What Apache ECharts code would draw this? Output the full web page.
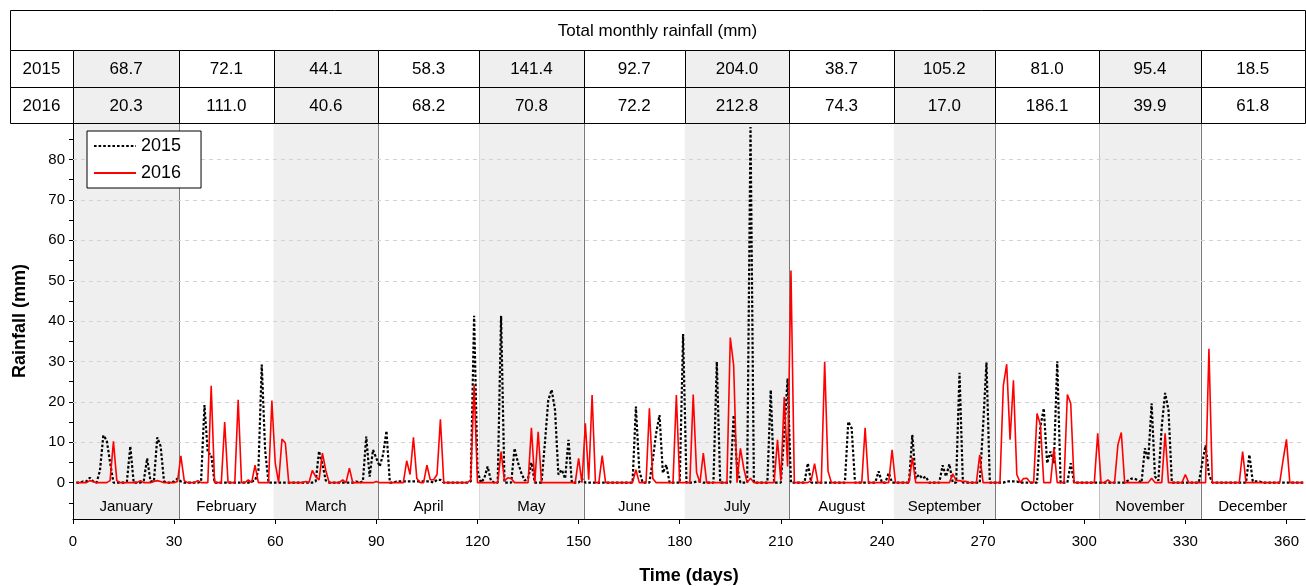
<!DOCTYPE html>
<html><head><meta charset="utf-8">
<script src="https://cdn.jsdelivr.net/npm/echarts@6/dist/echarts.min.js"></script>
<style>html,body{margin:0;padding:0;background:#fff}#c{width:1306px;height:586px}</style>
</head><body><div id="c"></div>
<script>
// ---------------- DATA ----------------
const months = ['January','February','March','April','May','June','July','August','September','October','November','December'];
const monthEnds = [31,59,90,120,151,181,212,243,273,304,334,365];
const years = ['2015','2016'];
const total2015 = ['68.7','72.1','44.1','58.3','141.4','92.7','204.0','38.7','105.2','81.0','95.4','18.5'];
const total2016 = ['20.3','111.0','40.6','68.2','70.8','72.2','212.8','74.3','17.0','186.1','39.9','61.8'];
const tableTitle = 'Total monthly rainfall (mm)';
const xTicks = [0,30,60,90,120,150,180,210,240,270,300,330,360];
const yLabels = [0,10,20,30,40,50,60,70,80];
const yTickVals = [-5,0,5,10,15,20,25,30,35,40,45,50,55,60,65,70,75,80,85];
const yGrid = [10,20,30,40,50,60,70,80];

// daily rainfall (mm), day 1..365
const rain2015 = [
  // Jan
  0,0,0.3,0.3,1.2,0.3,0,3,11.7,10.5, 5,0,0,0,0,0.3,9,0,0,0, 0.5,6,0.3,0.3,11.2,9,0.3,0,0,0.3, 1,
  // Feb
  0.3,0,0,0,0,0,0.3,19.2,7.3,7, 0,0,0,0,0,0,0,0,0,0, 0,0.3,0.5,3,29.2,8,0,0,
  // Mar
  0,0,0,0,0,0,0,0,0,0, 0,0,0.3,7.8,4.5,0.5,0,0,0,0, 0,0,0,0,0.3,0,0.3,11.4,1.5,8.1, 6,
  // Apr
  4,7,12.8,0,0,0.3,0.3,0.3,0.3,0.3, 0.3,0.3,0.3,0.3,0.3,0.3,0,0.7,0.7,0, 0,0,0,0,0,0,0,0.3,41.3,3,
  // May
  0,1,4,0.5,0,0,41.3,0,0,0, 8.5,5,2.4,0.5,1,5,0,0,0,9.8, 20.4,23,18,2,3.2,1,10.6,0,0,0, 1,
  // Jun
  0,0,0,0,0,0,0,0,0,0, 0,0,0,0,0,18.8,3,0,0,0, 5.6,12.2,16.7,2.4,4.4,0,0,0,0,36.8,
  // Jul
  0,0,0,0.3,0.3,0,0,0,0,29.9, 0,0,0,0,16.7,4,0,0,0,88, 0,0,0,0,0,22.9,0,0,0,12, 25.8,
  // Aug
  0,0,0,0,0,4.8,0,0,0,0, 0,0,0,0,0,0,0,15.1,13.5,0, 0,0,0,0,0,0,2.8,0,0,2.4, 0,
  // Sep
  0,0,0,0,0,11.8,1,2,1,1.5, 0,0,0,0,4.3,1.5,4.6,0,0,27.2, 0,0,0,0,0,0,14,29.7,0,0,
  // Oct
  0,0,0,0.3,0.3,0.3,0.3,0,0,0, 0,0,0,13.9,18.4,4.8,7.7,4.8,30,0, 0,0,4.8,0,0,0,0,0,0,0, 0,
  // Nov
  0,0,0,0,0,0,0,0,0.5,1, 1,0.5,0,8.5,5.6,19.6,1.5,0.5,13.9,22.2, 18,0,0,0,0,0,0,0,0,0,
  // Dec
  4.8,9.2,2,0,0,0,0,0,0,0, 0,0,0,0,6.9,0.3,0.3,0.3,0,0, 0,0,0,0,0,0,0,0,0,0, 0
];
const rain2016 = [
  // Jan
  0,0,0,0,0.5,0.3,0,0,0,0, 0.5,10.2,0.5,0,0,0,0,0,0,0.5, 0,0,0,0.3,0.5,0.3,0,0,0,0, 0.3,
  // Feb
  6.6,0.5,0,0,0,0.5,0,0,0,24, 0,0,0,15,0,0,0,20.5,0,0, 0.7,0,4.3,0,0,0,0,20.3,
  // Mar
  4.8,0,10.8,9.8,0,0,0,0,0,0.3, 0,3,1.5,0.7,7.3,3,0,0,0,0, 0.7,0,3.6,0,0,0,0,0,0,0, 0.3,
  // Apr
  0,0,0,0,0,0,0,0,5.4,2, 11.2,1,0,0,4.3,0.7,0.7,2,15.7,0, 0,0,0,0,0,0,0,0.7,24.1,0,
  // May
  0,0,0,0,0,0,7.7,0.5,1.2,1, 0,0,0,0,0,13.6,0,12.6,0,0, 0,0,0,0,0,0,0,0,0,6, 0,
  // Jun
  14.7,0.7,21.7,0,0,6.7,0,0,0,0, 0,0,0,0,0,3.2,0,0,0,18.4, 1,0,0,0,0,0,0,21.7,0,0,
  // Jul
  0,0,21.8,2.5,0,7.3,0,0,0,0, 0,0,0,35.9,29,0,8.5,3.5,0,1.1, 0,0,0,0,0,0,0,10.6,0.5,21.2, 4,
  // Aug
  52.5,0,0,0,0,0,0.5,4.7,0,0, 29.9,2.8,0,0,0,0,0,0,0,0, 0,0,13.6,0,0,0,0,0,0,0, 8.1,
  // Sep
  0,0,0,0,0,6.2,0,0,0,0, 0,0,0,0,0,0,0,2.2,0.5,0.5, 0.3,0.3,0,0,0,6.9,0,0,0,0,
  // Oct
  0,0,24,29.3,10.6,25.3,2,0,1,1.1, 0,0,17.1,14.3,0,0,0,8.5,0,0, 0,21.8,19.6,0,0,0,0,0,0,0, 12.2,
  // Nov
  0,0,0.7,0,0,9.4,12.4,0,0,0, 0,0,0,0,0,1.1,0,0,0,12.2, 0,0,0,0,0,2,0,0,0,0,
  // Dec
  0,0,33.1,0,0,0,0,0,0,0, 0,0,7.7,0,0,0,0,0,0,0, 0,0,0,0,5.6,10.7,0,0,0,0, 0
];

// ---------------- LAYOUT ----------------
const W = 1306, H = 586;
const G = {left: 73, right: 1, top: 123, bottom: 67};
const X_MIN = 0, X_MAX = 365.5, Y_MIN = -9, Y_MAX = 89;
const plotW = W - G.left - G.right;
const pxPerDay = plotW / (X_MAX - X_MIN);
const TABLE_LEFT = 10, TABLE_TOP = 10;
const X0 = X_MIN - (G.left - TABLE_LEFT) / pxPerDay;
const rowEdges = [0, 40, 77, 113];  // pixel rows of the table
const FONT = '"Liberation Sans", Arial, sans-serif';
const SHADE = '#efefef';
const LABEL_Y = -5.9;

const monthStart = months.map((m, i) => i === 0 ? X_MIN : monthEnds[i - 1] + 0.5);
const monthStop = months.map((m, i) => i === 11 ? X_MAX : monthEnds[i] + 0.5);

const crisp = v => Math.round(v) + 0.5;

// table cells
const cells = [];
cells.push({x0: X0, x1: X_MAX, r: 0, text: tableTitle, fill: '#fff'});
years.forEach((y, k) => {
  cells.push({x0: X0, x1: X_MIN, r: k + 1, text: y, fill: '#fff'});
  const tot = k === 0 ? total2015 : total2016;
  months.forEach((m, i) => {
    cells.push({x0: monthStart[i], x1: monthStop[i], r: k + 1, text: tot[i], fill: i % 2 === 0 ? SHADE : '#fff'});
  });
});

const chart = echarts.init(document.getElementById('c'));
chart.setOption({
  animation: false,
  backgroundColor: '#fff',
  textStyle: {fontFamily: FONT},
  grid: [
    {left: G.left, right: G.right, top: G.top, bottom: G.bottom, containLabel: false, outerBoundsMode: 'none'},
    {left: TABLE_LEFT, right: G.right, top: TABLE_TOP, height: rowEdges[3], containLabel: false, outerBoundsMode: 'none'}
  ],
  legend: {
    data: years,
    orient: 'vertical',
    left: 87, top: 131,
    backgroundColor: '#fff',
    borderColor: '#000', borderWidth: 1, borderRadius: 0,
    padding: [6, 20, 6, 6],
    itemWidth: 42, itemHeight: 12, itemGap: 9,
    itemStyle: {opacity: 0},
    textStyle: {fontSize: 18, color: '#000', fontFamily: FONT}
  },
  xAxis: [
    {
      gridIndex: 0, type: 'value', min: X_MIN, max: X_MAX, interval: 30,
      axisLine: {show: true, onZero: false, lineStyle: {color: '#000', width: 1}},
      axisTick: {show: true, length: 5, lineStyle: {color: '#000'}},
      axisLabel: {fontSize: 15, color: '#000', margin: 15, fontFamily: FONT},
      splitLine: {show: false},
      name: 'Time (days)', nameLocation: 'middle', nameGap: 48,
      nameTextStyle: {fontSize: 18, fontWeight: 'bold', color: '#000', fontFamily: FONT}
    },
    {gridIndex: 1, type: 'value', min: X0, max: X_MAX, show: false}
  ],
  yAxis: [
    {
      gridIndex: 0, type: 'value', min: Y_MIN, max: Y_MAX,
      axisLine: {show: true, onZero: false, lineStyle: {color: '#000', width: 1}},
      axisTick: {show: true, length: 4, customValues: yTickVals, lineStyle: {color: '#000'}},
      axisLabel: {fontSize: 15, color: '#000', margin: 8, customValues: yLabels, fontFamily: FONT},
      splitLine: {show: false},
      name: 'Rainfall (mm)', nameLocation: 'middle', nameGap: 44,
      nameTextStyle: {fontSize: 18, fontWeight: 'bold', color: '#000', fontFamily: FONT}
    },
    {gridIndex: 1, type: 'value', min: 0, max: rowEdges[3], inverse: true, show: false}
  ],
  series: [
    {
      type: 'custom', name: 'months', xAxisIndex: 0, yAxisIndex: 0, z: 0, silent: true,
      data: months.map((m, i) => [monthStart[i], monthStop[i]]),
      encode: {x: [0, 1]},
      renderItem: function (params, api) {
        const i = params.dataIndex;
        const a = api.coord([monthStart[i], Y_MAX]);
        const b = api.coord([monthStop[i], Y_MIN]);
        const lab = api.coord([(monthStart[i] + monthStop[i]) / 2, LABEL_Y]);
        const children = [];
        if (i % 2 === 0) {
          children.push({type: 'rect', shape: {x: a[0], y: a[1], width: b[0] - a[0], height: b[1] - a[1]}, style: {fill: SHADE}});
        }
        if (i < 11) {
          const xx = crisp(b[0]);
          children.push({type: 'line', shape: {x1: xx, y1: a[1], x2: xx, y2: b[1]}, style: {stroke: '#7a7a7a', lineWidth: 1}});
        }
        children.push({type: 'text', style: {text: months[i], x: lab[0], y: lab[1], align: 'center', verticalAlign: 'middle', fontSize: 15, fontFamily: FONT, fill: '#000'}});
        return {type: 'group', children: children};
      }
    },
    {
      type: 'custom', name: 'grid', xAxisIndex: 0, yAxisIndex: 0, z: 1, silent: true,
      data: yGrid.map(v => [X_MIN, v]),
      renderItem: function (params, api) {
        const v = yGrid[params.dataIndex];
        const a = api.coord([X_MIN, v]);
        const b = api.coord([X_MAX, v]);
        const yy = crisp(a[1]);
        return {type: 'line', shape: {x1: a[0], y1: yy, x2: b[0], y2: yy}, style: {stroke: '#d2d2d2', lineWidth: 1, lineDash: [4, 4]}};
      }
    },
    {
      type: 'line', name: '2015', xAxisIndex: 0, yAxisIndex: 0, z: 3,
      data: rain2015.map((v, i) => [i + 1, v]),
      symbol: 'none', showSymbol: false,
      lineStyle: {color: '#000', width: 2.2, type: [2.6, 2]},
      itemStyle: {color: '#000'}
    },
    {
      type: 'line', name: '2016', xAxisIndex: 0, yAxisIndex: 0, z: 4,
      data: rain2016.map((v, i) => [i + 1, v]),
      symbol: 'none', showSymbol: false,
      lineStyle: {color: '#ff0000', width: 1.6},
      itemStyle: {color: '#ff0000'}
    },
    {
      type: 'custom', name: 'table', xAxisIndex: 1, yAxisIndex: 1, z: 5, silent: true,
      data: cells.map(c => [c.x0, c.x1, rowEdges[c.r], rowEdges[c.r + 1]]),
      encode: {x: [0, 1], y: [2, 3]},
      renderItem: function (params, api) {
        const c = cells[params.dataIndex];
        const a = api.coord([c.x0, rowEdges[c.r]]);
        const b = api.coord([c.x1, rowEdges[c.r + 1]]);
        const x1 = crisp(a[0]), y1 = crisp(a[1]), x2 = crisp(b[0]), y2 = crisp(b[1]);
        return {type: 'group', children: [
          {type: 'rect', shape: {x: x1, y: y1, width: x2 - x1, height: y2 - y1}, style: {fill: c.fill, stroke: '#000', lineWidth: 1}},
          {type: 'text', style: {text: c.text, x: (a[0] + b[0]) / 2, y: (a[1] + b[1]) / 2 + 1, align: 'center', verticalAlign: 'middle', fontSize: 17, fontFamily: FONT, fill: '#000'}}
        ]};
      }
    }
  ]
});
</script>
</body></html>
